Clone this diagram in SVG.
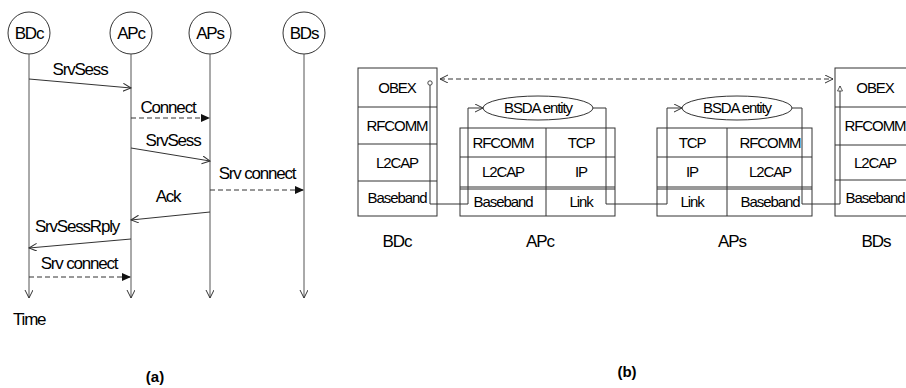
<svg xmlns="http://www.w3.org/2000/svg" width="906" height="388" viewBox="0 0 906 388">
<style>
  text { font-family: "Liberation Sans", Arial, sans-serif; fill: #000; }
  .la { font-size: 17px; letter-spacing: -1.2px; }
  .lb { font-size: 15px; letter-spacing: -1.1px; text-anchor: middle; }
  .cap { font-size: 17px; letter-spacing: -1px; text-anchor: middle; }
  .sub { font-size: 15px; font-weight: bold; text-anchor: middle; }
  .ln { stroke: #333; stroke-width: 1; fill: none; }
  .ll { stroke: #555; stroke-width: 1; fill: none; }
  .dash { stroke: #333; stroke-width: 1; fill: none; stroke-dasharray: 5 3; }
  .box { stroke: #333; stroke-width: 1; fill: #fff; }
</style>
<defs>
  <marker id="open" markerUnits="userSpaceOnUse" markerWidth="10" markerHeight="10" refX="8" refY="4" orient="auto-start-reverse">
    <path d="M0,0 L8,4 L0,8" fill="none" stroke="#333" stroke-width="1"/>
  </marker>
  <marker id="fill" markerUnits="userSpaceOnUse" markerWidth="12" markerHeight="10" refX="9" refY="4" orient="auto">
    <path d="M0,0 L9,4 L0,8 z" fill="#111"/>
  </marker>
  <marker id="tri" markerUnits="userSpaceOnUse" markerWidth="8" markerHeight="8" refX="3" refY="0.5" orient="0">
    <path d="M0.5,5.5 L3,0.5 L5.5,5.5 z" fill="#fff" stroke="#333" stroke-width="0.8"/>
  </marker>
</defs>

<!-- Part (a): sequence diagram -->
<g id="a-BDc"><circle cx="29" cy="33" r="21" class="box"/><text x="29" y="39" class="la" text-anchor="middle">BDc</text></g>
<g id="a-APc"><circle cx="131" cy="33" r="21" class="box"/><text x="131" y="39" class="la" text-anchor="middle">APc</text></g>
<g id="a-APs"><circle cx="210" cy="33" r="21" class="box"/><text x="210" y="39" class="la" text-anchor="middle">APs</text></g>
<g id="a-BDs"><circle cx="304" cy="33" r="21" class="box"/><text x="304" y="39" class="la" text-anchor="middle">BDs</text></g>

<g id="a-connectors">
  <line x1="29" y1="54" x2="29" y2="298" class="ll" marker-end="url(#open)"/>
  <line x1="131" y1="54" x2="131" y2="298" class="ll" marker-end="url(#open)"/>
  <line x1="210" y1="54" x2="210" y2="298" class="ll" marker-end="url(#open)"/>
  <line x1="304" y1="54" x2="304" y2="298" class="ll" marker-end="url(#open)"/>

  <line x1="29" y1="79" x2="131" y2="88" class="ln" marker-end="url(#open)"/>
  <line x1="131" y1="118" x2="210" y2="118" class="dash" marker-end="url(#fill)"/>
  <line x1="131" y1="148" x2="210" y2="161" class="ln" marker-end="url(#open)"/>
  <line x1="210" y1="190" x2="304" y2="190" class="dash" marker-end="url(#fill)"/>
  <line x1="210" y1="212" x2="131" y2="220" class="ln" marker-end="url(#open)"/>
  <line x1="131" y1="239" x2="29" y2="248" class="ln" marker-end="url(#open)"/>
  <line x1="29" y1="277" x2="131" y2="277" class="dash" marker-end="url(#fill)"/>
</g>
<g id="a-labels">
  <text x="80" y="75" class="la" text-anchor="middle">SrvSess</text>
  <text x="168" y="113" class="la" text-anchor="middle">Connect</text>
  <text x="173" y="146" class="la" text-anchor="middle">SrvSess</text>
  <text x="257" y="179" class="la" text-anchor="middle">Srv connect</text>
  <text x="168" y="202" class="la" text-anchor="middle">Ack</text>
  <text x="77" y="232" class="la" text-anchor="middle">SrvSessRply</text>
  <text x="79" y="269" class="la" text-anchor="middle">Srv connect</text>
  <text x="13" y="325" class="la">Time</text>
</g>

<!-- Part (b): protocol stacks -->
<g id="b-BDc">
  <rect x="358" y="68" width="79" height="148" class="box"/>
  <path d="M358,107 H437 M358,144 H437 M358,181 H437" class="ln"/>
  <text x="397" y="93" class="lb">OBEX</text>
  <text x="397" y="131" class="lb">RFCOMM</text>
  <text x="397" y="168" class="lb">L2CAP</text>
  <text x="397" y="203" class="lb">Baseband</text>
  <text x="397" y="247" class="cap">BDc</text>
</g>
<g id="b-APc">
  <rect x="460" y="128" width="155" height="88" class="box"/>
  <path d="M460,157 H615 M460,187 H615 M460,189 H615 M546,128 V216" class="ln"/>
  <text x="503" y="148" class="lb">RFCOMM</text>
  <text x="581" y="148" class="lb">TCP</text>
  <text x="503" y="177" class="lb">L2CAP</text>
  <text x="581" y="177" class="lb">IP</text>
  <text x="503" y="207" class="lb">Baseband</text>
  <text x="581" y="207" class="lb">Link</text>
  <text x="540" y="247" class="cap">APc</text>
</g>
<g id="b-APc-entity">
  <ellipse cx="538" cy="108" rx="55" ry="12" class="box"/>
  <text x="538" y="113" class="lb">BSDA entity</text>
</g>
<g id="b-APs">
  <rect x="657" y="128" width="155" height="88" class="box"/>
  <path d="M657,157 H812 M657,187 H812 M657,189 H812 M727,128 V216" class="ln"/>
  <text x="692" y="148" class="lb">TCP</text>
  <text x="770" y="148" class="lb">RFCOMM</text>
  <text x="692" y="177" class="lb">IP</text>
  <text x="770" y="177" class="lb">L2CAP</text>
  <text x="692" y="207" class="lb">Link</text>
  <text x="770" y="207" class="lb">Baseband</text>
  <text x="732" y="247" class="cap">APs</text>
</g>
<g id="b-APs-entity">
  <ellipse cx="737" cy="108" rx="55" ry="12" class="box"/>
  <text x="737" y="113" class="lb">BSDA entity</text>
</g>
<g id="b-BDs">
  <rect x="835" y="68" width="80" height="148" class="box"/>
  <path d="M835,107 H915 M835,145 H915 M835,180 H915" class="ln"/>
  <text x="875" y="93" class="lb">OBEX</text>
  <text x="875" y="131" class="lb">RFCOMM</text>
  <text x="875" y="168" class="lb">L2CAP</text>
  <text x="875" y="203" class="lb">Baseband</text>
  <text x="876" y="247" class="cap">BDs</text>
</g>

<g id="b-connectors">
  <line x1="440" y1="79" x2="833" y2="79" class="dash" marker-start="url(#open)" marker-end="url(#open)"/>
  <circle cx="430" cy="83" r="2.2" fill="#fff" stroke="#333" stroke-width="0.9"/>
  <path d="M430,85.2 V204 H468 V108 H483" class="ln" marker-end="url(#open)"/>
  <path d="M593,108 H606 V204 H667 V108 H682" class="ln" marker-end="url(#open)"/>
  <path d="M792,108 H802 V204 H840 V86" class="ln" marker-end="url(#tri)"/>
</g>

<g id="captions">
  <text x="155" y="382" class="sub">(a)</text>
  <text x="627" y="377" class="sub">(b)</text>
</g>
</svg>
